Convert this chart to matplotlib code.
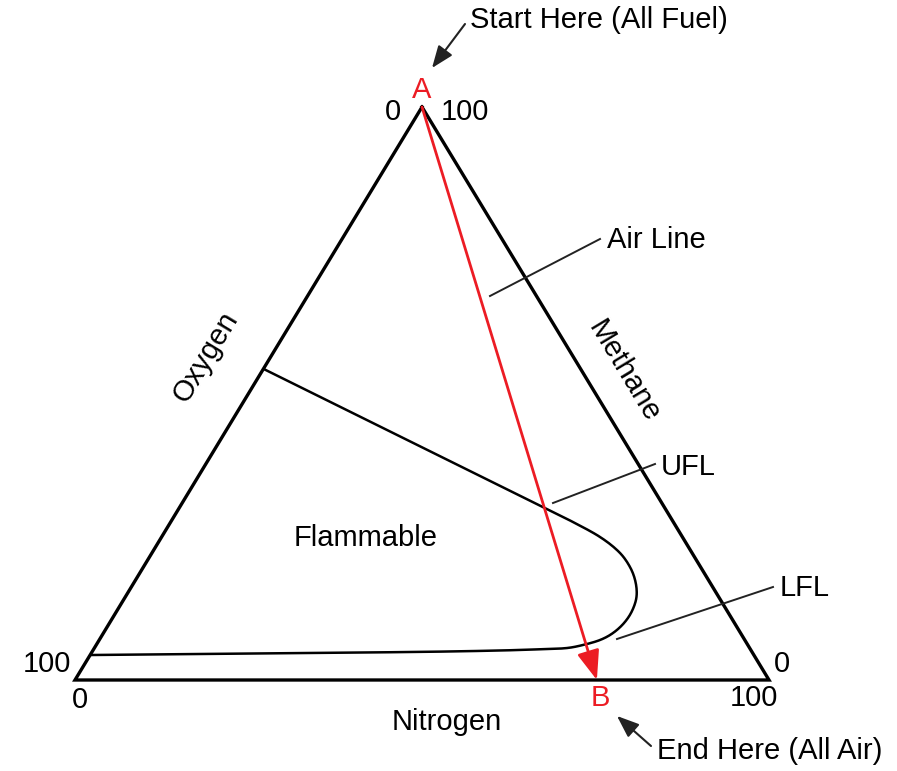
import matplotlib
matplotlib.use("Agg")
import matplotlib.pyplot as plt
import numpy as np

# ---- data: ternary compositions (methane %, nitrogen %), oxygen = 100 - both ----
curve_ch4 = [54.3, 30.2, 27.57, 24.96, 22.34, 19.72, 17.10, 14.49, 12.04, 9.95,
             8.20, 6.98, 6.11, 5.58, 5.41, 5.15, 4.89, 4.62, 4.36]
curve_n2 = [0.0, 52.3, 57.97, 63.17, 67.22, 70.11, 72.22, 73.66, 74.24, 74.14,
            73.42, 72.16, 70.14, 68.10, 65.30, 58.66, 46.25, 22.9, 0.0]
point_A = (100.0, 0.0)   # all fuel
point_B = (0.0, 75.2)    # all air
tick_labels = ["0", "100"]
axis_names = ["Oxygen", "Methane", "Nitrogen"]

# ---- layout (pixel geometry of the triangle) ----
W, H = 897, 771
TOP = (422, 107)
LEFT = (75, 680)
RIGHT = (769, 680)

def to_xy(ch4, n2):
    ch4 = np.asarray(ch4, float) / 100.0
    n2 = np.asarray(n2, float) / 100.0
    o2 = 1.0 - ch4 - n2
    x = o2 * LEFT[0] + n2 * RIGHT[0] + ch4 * TOP[0]
    y = o2 * LEFT[1] + n2 * RIGHT[1] + ch4 * TOP[1]
    return x, y

plt.rcParams['font.family'] = ['Liberation Sans', 'DejaVu Sans']
FS = 21
RED = '#ec1c24'

fig = plt.figure(figsize=(W / 100, H / 100), dpi=100)
ax = fig.add_axes([0, 0, 1, 1])
ax.set_xlim(0, W)
ax.set_ylim(H, 0)
ax.axis('off')

# triangle
tx, ty = to_xy([100, 0, 0, 100], [0, 0, 100, 0])
ax.plot(tx, ty, color='black', lw=2.4, solid_joinstyle='miter')

# flammability envelope: straight UFL segment, then smooth Catmull-Rom through the nose
cx, cy = to_xy(curve_ch4, curve_n2)

def catmull(px, py, n=12):
    px = np.concatenate([[2 * px[0] - px[1]], px, [2 * px[-1] - px[-2]]])
    py = np.concatenate([[2 * py[0] - py[1]], py, [2 * py[-1] - py[-2]]])
    outx, outy = [], []
    for i in range(1, len(px) - 2):
        for s in np.linspace(0, 1, n, endpoint=False):
            s2, s3 = s * s, s * s * s
            def f(p):
                return 0.5 * ((2 * p[i]) + (-p[i - 1] + p[i + 1]) * s +
                              (2 * p[i - 1] - 5 * p[i] + 4 * p[i + 1] - p[i + 2]) * s2 +
                              (-p[i - 1] + 3 * p[i] - 3 * p[i + 1] + p[i + 2]) * s3)
            outx.append(f(px)); outy.append(f(py))
    outx.append(px[-2]); outy.append(py[-2])
    return np.array(outx), np.array(outy)

sx, sy = catmull(cx[1:], cy[1:])
ax.plot(np.concatenate([[cx[0]], sx]), np.concatenate([[cy[0]], sy]),
        color='black', lw=1.8, solid_capstyle='butt')

# air line (red arrow A -> B)
ax_, ay_ = to_xy(point_A[0], point_A[1])
bx_, by_ = to_xy(point_B[0], point_B[1])
ax.annotate('', xy=(bx_, by_), xytext=(ax_, ay_),
            arrowprops=dict(arrowstyle='-|>,head_length=1.0,head_width=0.38',
                            mutation_scale=18, color=RED, lw=2.0,
                            shrinkA=0, shrinkB=0))
ax.text(ax_, 90, 'A', color=RED, fontsize=FS, ha='center', va='center')
ax.text(bx_ + 3, 698, 'B', color=RED, fontsize=FS, ha='center', va='center')

# leader lines
leader = dict(color='#222222', lw=1.4)
ax.plot([490, 600], [296, 239], **leader)
ax.plot([553, 655], [503, 464], **leader)
ax.plot([617, 773], [639, 587], **leader)
ax.text(607, 240, 'Air Line', fontsize=FS, ha='left', va='center')
ax.text(661, 467, 'UFL', fontsize=FS, ha='left', va='center')
ax.text(780, 588, 'LFL', fontsize=FS, ha='left', va='center')
ax.text(366, 538, 'Flammable', fontsize=FS, ha='center', va='center')

# start / end annotations
arrow_small = dict(arrowstyle='-|>,head_length=0.9,head_width=0.35',
                   mutation_scale=15, color='#222222', lw=1.5,
                   shrinkA=0, shrinkB=0)
ax.annotate('', xy=(432, 68), xytext=(465, 24), arrowprops=arrow_small)
ax.text(470, 20, 'Start Here (All Fuel)', fontsize=FS, ha='left', va='center')
ax.annotate('', xy=(617, 716), xytext=(651, 746), arrowprops=arrow_small)
ax.text(657, 751, 'End Here (All Air)', fontsize=FS, ha='left', va='center')

# tick labels
ax.text(393, 112, tick_labels[0], fontsize=FS, ha='center', va='center')
ax.text(465, 112, tick_labels[1], fontsize=FS, ha='center', va='center')
ax.text(47, 664, tick_labels[1], fontsize=FS, ha='center', va='center')
ax.text(80, 700, tick_labels[0], fontsize=FS, ha='center', va='center')
ax.text(782, 664, tick_labels[0], fontsize=FS, ha='center', va='center')
ax.text(754, 698, tick_labels[1], fontsize=FS, ha='center', va='center')

# axis names
ang = np.degrees(np.arctan2(LEFT[1] - TOP[1], TOP[0] - LEFT[0]))
ax.text(206, 357, axis_names[0], fontsize=FS, ha='center', va='center',
        rotation=ang, rotation_mode='anchor')
ax.text(624, 371, axis_names[1], fontsize=FS, ha='center', va='center',
        rotation=-ang, rotation_mode='anchor')
ax.text(447, 722, axis_names[2], fontsize=FS, ha='center', va='center')

fig.savefig('out.png', dpi=100, facecolor='white')
